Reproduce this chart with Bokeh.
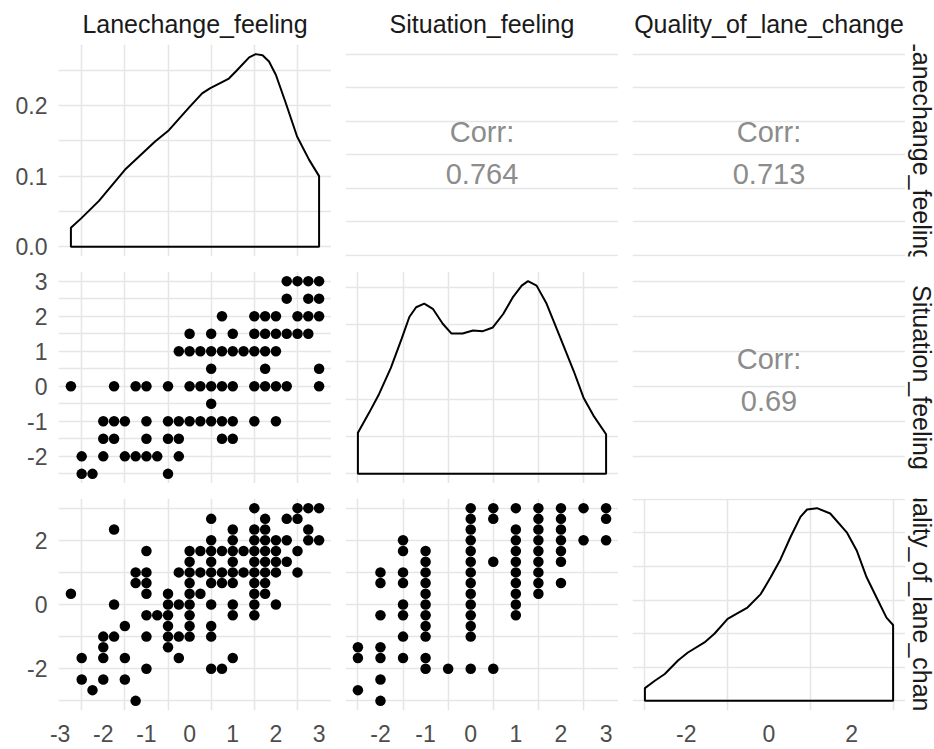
import math
from bokeh.plotting import figure
from bokeh.layouts import gridplot
from bokeh.models import Range1d, LinearAxis, FixedTicker, Grid
from bokeh.core.properties import value
from bokeh.embed import file_html
from bokeh.resources import INLINE

# ---------------------------------------------------------------- data
variables = ["Lanechange_feeling", "Situation_feeling", "Quality_of_lane_change"]
limits = [(-2.75, 3.0), (-2.5, 3.0), (-3.0, 3.0)]

# correlations printed in the upper triangle
corr_labels = {(0, 1): "0.764", (0, 2): "0.713", (1, 2): "0.69"}

# Lanechange_feeling (x) against Situation_feeling (y), grouped by y
ls_rows = [
    (3.0, [2.25, 2.5, 2.75, 3.0]),
    (2.5, [2.25, 2.75, 3.0]),
    (2.0, [0.75, 1.5, 1.75, 2.0, 2.5, 2.75, 3.0]),
    (1.5, [0.0, 0.5, 1.0, 1.5, 1.75, 2.0, 2.25, 2.5, 2.75]),
    (1.0, [-0.25, 0.0, 0.25, 0.5, 0.75, 1.0, 1.25, 1.5, 1.75, 2.0]),
    (0.5, [0.5, 1.75, 3.0]),
    (0.0, [-2.75, -1.75, -1.25, -1.0, -0.5, 0.0, 0.25, 0.5, 0.75, 1.0, 1.5, 1.75, 2.0, 2.25, 3.0]),
    (-0.5, [0.5]),
    (-1.0, [-2.0, -1.75, -1.5, -1.0, -0.5, -0.25, 0.0, 0.25, 0.5, 0.75, 1.0, 1.5, 2.0]),
    (-1.5, [-2.0, -1.75, -1.0, -0.5, -0.25, 0.75, 1.0]),
    (-2.0, [-2.5, -2.0, -1.5, -1.25, -1.0, -0.75, -0.25]),
    (-2.5, [-2.5, -2.25, -0.5]),
]

# Lanechange_feeling (x) against Quality_of_lane_change (y), grouped by y
lq_rows = [
    (3.0, [1.5, 2.5, 2.75, 3.0]),
    (8 / 3, [0.5, 1.75, 2.25, 2.5]),
    (7 / 3, [-1.75, 1.0, 1.5, 1.75, 2.75]),
    (2.0, [0.5, 1.0, 1.5, 1.75, 2.0, 2.25, 2.75, 3.0]),
    (5 / 3, [-1.0, 0.0, 0.25, 0.5, 0.75, 1.0, 1.25, 1.5, 1.75, 2.0, 2.5]),
    (4 / 3, [0.0, 0.5, 1.0, 1.5, 1.75, 2.0, 2.25]),
    (1.0, [-1.25, -1.0, -0.25, 0.0, 0.25, 0.5, 0.75, 1.0, 1.25, 1.5, 1.75, 2.0, 2.5]),
    (2 / 3, [-1.25, -1.0, 0.0, 0.5, 0.75, 1.0, 1.5, 1.75]),
    (1 / 3, [-2.75, -1.0, -0.5, 0.0, 0.25, 1.5, 1.75]),
    (0.0, [-1.75, -0.5, -0.25, 0.0, 0.5, 1.0, 1.5, 2.0]),
    (-1 / 3, [-1.0, -0.75, -0.5, 0.0, 1.0, 1.5]),
    (-2 / 3, [-1.5, -0.5, 0.0, 0.5]),
    (-1.0, [-2.0, -1.75, -1.0, -0.5, -0.25, 0.0, 0.5]),
    (-4 / 3, [-2.0, -0.5]),
    (-5 / 3, [-2.5, -2.0, -1.5, -0.25, 1.0]),
    (-2.0, [-1.0, 0.5, 0.75]),
    (-7 / 3, [-2.5, -2.0, -1.5]),
    (-8 / 3, [-2.25]),
    (-3.0, [-1.25]),
]

# Situation_feeling (x) against Quality_of_lane_change (y), grouped by x
sq_cols = [
    (-2.5, [-4 / 3, -5 / 3, -8 / 3]),
    (-2.0, [1.0, 2 / 3, -1 / 3, -4 / 3, -5 / 3, -7 / 3, -3.0]),
    (-1.5, [2.0, 5 / 3, 1.0, 2 / 3, 0.0, -1 / 3, -1.0, -5 / 3]),
    (-1.0, [5 / 3, 4 / 3, 1.0, 2 / 3, 1 / 3, 0.0, -1 / 3, -2 / 3, -1.0, -5 / 3, -2.0]),
    (-0.5, [-2.0]),
    (0.0, [3.0, 8 / 3, 7 / 3, 2.0, 5 / 3, 4 / 3, 1.0, 2 / 3, 1 / 3, 0.0, -1 / 3, -2 / 3, -1.0, -2.0]),
    (0.5, [3.0, 8 / 3, 4 / 3, -2.0]),
    (1.0, [3.0, 7 / 3, 2.0, 5 / 3, 4 / 3, 1.0, 2 / 3, 1 / 3, 0.0, -1 / 3]),
    (1.5, [3.0, 8 / 3, 7 / 3, 2.0, 5 / 3, 4 / 3, 1.0, 2 / 3, 1 / 3]),
    (2.0, [3.0, 8 / 3, 7 / 3, 2.0, 5 / 3, 4 / 3, 2 / 3]),
    (2.5, [3.0, 2.0]),
    (3.0, [3.0, 8 / 3, 2.0]),
]

# kernel density estimates on the diagonal
lane_dens_x = [-2.75, -2.5, -2.1, -1.5, -0.8, -0.48, 0.0, 0.29, 0.47, 0.91, 1.07,
               1.38, 1.53, 1.69, 1.84, 2.0, 2.23, 2.49, 2.77, 3.0]
lane_dens_y = [0.027, 0.041, 0.065, 0.109, 0.149, 0.165, 0.198, 0.217, 0.224, 0.238, 0.248,
               0.268, 0.2725, 0.271, 0.262, 0.243, 0.203, 0.156, 0.123, 0.100]
sit_dens_x = [-2.5, -2.25, -2.03, -1.77, -1.53, -1.36, -1.21, -1.03, -0.84, -0.62, -0.43,
              -0.18, 0.05, 0.27, 0.49, 0.72, 0.94, 1.13, 1.27, 1.46, 1.68, 1.98, 2.28,
              2.5, 2.72, 3.0]
sit_dens_y = [0.055, 0.082, 0.107, 0.142, 0.181, 0.210, 0.223, 0.228, 0.221, 0.201, 0.188,
              0.188, 0.192, 0.191, 0.196, 0.214, 0.237, 0.252, 0.258, 0.252, 0.228, 0.183,
              0.138, 0.102, 0.078, 0.053]
qual_dens_x = [-3.0, -2.76, -2.52, -2.2, -1.96, -1.56, -1.32, -1.0, -0.8, -0.52, -0.2, 0.04,
               0.28, 0.52, 0.76, 0.92, 1.16, 1.48, 1.88, 2.12, 2.36, 2.6, 2.84, 3.0]
qual_dens_y = [0.019, 0.030, 0.040, 0.060, 0.072, 0.087, 0.100, 0.122, 0.129, 0.139, 0.159,
               0.184, 0.211, 0.244, 0.274, 0.285, 0.287, 0.279, 0.251, 0.224, 0.184, 0.154,
               0.124, 0.113]

# axis labels and grid positions
y_tick_values = [[0.0, 0.1, 0.2], [-2, -1, 0, 1, 2, 3], [-2, 0, 2]]
y_tick_text = [["0.0", "0.1", "0.2"], ["-2", "-1", "0", "1", "2", "3"], ["-2", "0", "2"]]
x_tick_values = [[-3, -2, -1, 0, 1, 2, 3], [-2, -1, 0, 1, 2, 3], [-2, 0, 2]]
x_tick_text = [["-3", "-2", "-1", "0", "1", "2", "3"], ["-2", "-1", "0", "1", "2", "3"],
               ["-2", "0", "2"]]
v_grid = [[-2.5, -1.5, -0.5, 0.5, 1.5, 2.5], [-2.5, -1.5, -0.5, 0.5, 1.5, 2.5], [-3, -1, 1, 3]]
h_grid_scatter = [None, [-2.5, -2, -1.5, -1, -0.5, 0, 0.5, 1, 1.5, 2, 2.5, 3],
                  [-3, -2, -1, 0, 1, 2, 3]]
h_grid_corr = [[-3, -2, -1, 0, 1, 2, 3], [-2, -1, 0, 1, 2, 3], None]
h_grid_dens = [[0, 0.05, 0.1, 0.15, 0.2, 0.25], [0, 0.05, 0.1, 0.15, 0.2, 0.25],
               [0, 0.05, 0.1, 0.15, 0.2, 0.25, 0.3]]

# ---------------------------------------------------------------- styling
FONT = "Liberation Sans"
GRID_COLOR = "#E6E6E6"
GRID_WIDTH = 1.6
PW, PH = 273, 212
LEFT = [58, 14, 14]
TOP = [0, 7, 15]
BOTTOM = [8, 0, 39]
STRIP_H, STRIP_W = 44, 29


def expand(lo, hi, f=0.05):
    d = (hi - lo) * f
    return lo - d, hi + d


def flatten_rows(rows):
    xs, ys = [], []
    for yv, xv in rows:
        for x in xv:
            xs.append(x)
            ys.append(yv)
    return xs, ys


def flatten_cols(cols):
    xs, ys = [], []
    for xv, yv in cols:
        for y in yv:
            xs.append(xv)
            ys.append(y)
    return xs, ys


def base_fig(xr, yr, left, top, bottom, w=PW, h=PH):
    p = figure(frame_width=w, frame_height=h, x_range=Range1d(*xr), y_range=Range1d(*yr),
               x_axis_type=None, y_axis_type=None, toolbar_location=None,
               output_backend="svg", min_border_left=left, min_border_right=0,
               min_border_top=top, min_border_bottom=bottom)
    p.outline_line_color = None
    p.border_fill_color = "white"
    p.background_fill_color = "white"
    return p


def add_grid(p, dim, ticks):
    if ticks:
        p.add_layout(Grid(dimension=dim, ticker=FixedTicker(ticks=ticks),
                          grid_line_color=GRID_COLOR, grid_line_width=GRID_WIDTH))


def style_axis(ax, ticks, texts, standoff):
    ax.ticker = FixedTicker(ticks=ticks)
    ax.major_label_overrides = {t: s for t, s in zip(ticks, texts)}
    ax.axis_line_color = None
    ax.major_tick_line_color = None
    ax.minor_tick_line_color = None
    ax.major_tick_out = 0
    ax.major_tick_in = 0
    ax.major_label_standoff = standoff
    ax.major_label_text_font = FONT
    ax.major_label_text_font_size = "23px"
    ax.major_label_text_color = "#4D4D4D"


scatter_data = {
    (1, 0): flatten_rows(ls_rows),
    (2, 0): flatten_rows(lq_rows),
    (2, 1): flatten_cols(sq_cols),
}
density_data = [(lane_dens_x, lane_dens_y), (sit_dens_x, sit_dens_y), (qual_dens_x, qual_dens_y)]

# ---------------------------------------------------------------- strips on top
top_strips = []
for c in range(3):
    s = base_fig((0, PW), (0, STRIP_H), LEFT[c], 0, 0, h=STRIP_H)
    s.text(x=[PW / 2], y=[STRIP_H - 23.5], text=[variables[c]], text_align="center",
           text_baseline="middle", text_font=value(FONT), text_font_size="25px",
           text_color="#1A1A1A")
    top_strips.append(s)

# ---------------------------------------------------------------- panels
rows = [top_strips + [None]]
for r in range(3):
    row = []
    for c in range(3):
        xr = expand(*limits[c])
        if r == c:
            dx, dy = density_data[r]
            m = max(dy)
            yr = (-0.05 * m, 1.05 * m)
        else:
            yr = expand(*limits[r])
        p = base_fig(xr, yr, LEFT[c], TOP[r], BOTTOM[r])

        if r == c:
            add_grid(p, 1, h_grid_dens[r])
            add_grid(p, 0, v_grid[c])
            px = [dx[0]] + list(dx) + [dx[-1]]
            py = [0.0] + list(dy) + [0.0]
            p.patch(px, py, fill_color=None, line_color="black", line_width=2)
        elif r > c:
            add_grid(p, 1, h_grid_scatter[r])
            add_grid(p, 0, v_grid[c])
            sx, sy = scatter_data[(r, c)]
            p.scatter(sx, sy, marker="circle", size=10.5, fill_color="black",
                      line_color="black", line_width=0)
        else:
            add_grid(p, 1, h_grid_corr[r])
            ppu = PH / (yr[1] - yr[0])
            xm = (xr[0] + xr[1]) / 2
            ym = (yr[0] + yr[1]) / 2
            p.text(x=[xm, xm], y=[ym + 19 / ppu, ym - 23 / ppu],
                   text=["Corr:", corr_labels[(r, c)]], text_align="center",
                   text_baseline="middle", text_font=value(FONT),
                   text_font_size="29px", text_color="#8C8C8C")

        if c == 0:
            ax = LinearAxis()
            style_axis(ax, y_tick_values[r], y_tick_text[r], 11)
            p.add_layout(ax, "left")
        if r == 2:
            ax = LinearAxis()
            style_axis(ax, x_tick_values[c], x_tick_text[c], 14)
            p.add_layout(ax, "below")
        row.append(p)

    # strip on the right, clipped to the panel height
    s = base_fig((0, STRIP_W), (0, PH), 0, TOP[r], BOTTOM[r], w=STRIP_W)
    s.text(x=[16], y=[PH / 2], text=[variables[r]], angle=-math.pi / 2,
           text_align="center", text_baseline="middle", text_font=value(FONT),
           text_font_size="25px", text_color="#1A1A1A")
    row.append(s)
    rows.append(row)

grid = gridplot(rows, toolbar_location=None)

open("out.html", "w").write(file_html(grid, INLINE))
